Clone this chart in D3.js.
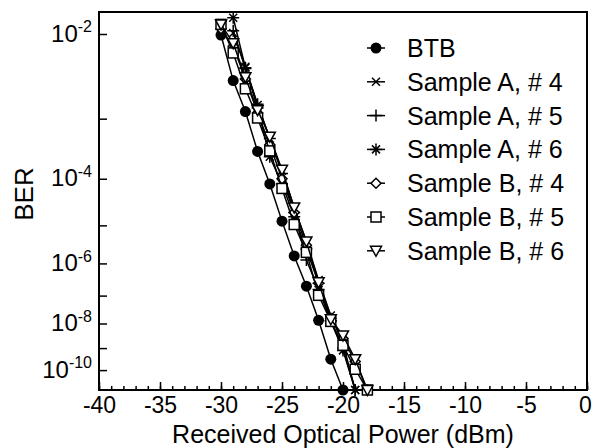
<!DOCTYPE html>
<html>
<head>
<meta charset="utf-8">
<script src="https://cdn.jsdelivr.net/npm/d3@7"></script>
<style>
  body { margin: 0; background: #fff; }
  text { font-family: "Liberation Sans", Arial, sans-serif; fill: #000; }
</style>
</head>
<body>
<div id="chart"></div>
<script>
// received optical power (dBm) and log10(BER) for each curve
var btbPower = [-30, -29, -28, -27, -26, -25, -24, -23, -22, -21, -20];
var btbLogBer = [-2.01, -2.50, -2.90, -3.51, -4.10, -4.90, -5.79, -6.69, -7.88, -9.49, -11];

var a4Power = [-29, -28, -27, -26, -25, -24, -23, -22, -21, -20, -19];
var a4LogBer = [-1.99, -2.34, -2.81, -3.30, -3.85, -4.60, -5.40, -6.50, -7.70, -8.80, -11];

var a5Power = [-29, -28, -27, -26, -25, -24, -23, -22, -21, -20, -19];
var a5LogBer = [-1.97, -2.36, -2.80, -3.30, -3.90, -4.70, -5.90, -6.80, -7.90, -9.00, -11];

var a6Power = [-29, -28, -27, -26, -25, -24, -23, -22, -21, -20, -19];
var a6LogBer = [-1.85, -2.35, -2.85, -3.60, -4.10, -4.80, -5.60, -6.60, -7.90, -9.10, -11];

var b4Power = [-30, -29, -28, -27, -26, -25, -24, -23, -22, -21, -20, -19, -18];
var b4LogBer = [-1.95, -2.12, -2.48, -2.92, -3.40, -4.00, -4.70, -5.50, -6.60, -7.80, -8.60, -9.60, -11];

var b5Power = [-30, -29, -28, -27, -26, -25, -24, -23, -22, -21, -20, -19, -18];
var b5LogBer = [-1.91, -2.19, -2.60, -2.99, -3.50, -4.19, -4.98, -5.69, -6.99, -7.92, -8.88, -9.96, -11];

var b6Power = [-30, -29, -28, -27, -26, -25, -24, -23, -22, -21, -20, -19, -18];
var b6LogBer = [-1.91, -2.09, -2.46, -2.88, -3.27, -3.83, -4.59, -5.40, -6.57, -7.84, -8.47, -9.49, -11];

var seriesNames = ["BTB", "Sample A, # 4", "Sample A, # 5", "Sample A, # 6",
                   "Sample B, # 4", "Sample B, # 5", "Sample B, # 6"];
var seriesMarkers = ["circle", "x", "plus", "star", "diamond", "square", "triangle"];

var xTicks = [-40, -35, -30, -25, -20, -15, -10, -5, 0];
var yTickExps = [-2, -4, -6, -8, -10];
var yMinorExps = [-3, -5, -7, -9];

var series = [
  [btbPower, btbLogBer], [a4Power, a4LogBer], [a5Power, a5LogBer], [a6Power, a6LogBer],
  [b4Power, b4LogBer], [b5Power, b5LogBer], [b6Power, b6LogBer]
].map(function(s, i) {
  return {
    name: seriesNames[i],
    marker: seriesMarkers[i],
    values: s[0].map(function(p, j) { return { power: p, logBer: s[1][j] }; })
  };
});

var svgWidth = 592, svgHeight = 448;
var margin = { top: 12, right: 5, bottom: 58, left: 99 };
var chartWidth = svgWidth - margin.left - margin.right;
var chartHeight = svgHeight - margin.top - margin.bottom;

var svg = d3.select("#chart").append("svg")
  .attr("width", svgWidth)
  .attr("height", svgHeight);

var chartGroup = svg.append("g")
  .attr("transform", `translate(${margin.left}, ${margin.top})`);

var xScale = d3.scaleLinear().domain([-40, 0]).range([0, chartWidth]);
// BER axis: log of -log10(BER)
var yScale = d3.scaleLog().domain([1.8, 11]).range([0, chartHeight]);
function yPos(logBer) { return yScale(-logBer); }

// minor x ticks
chartGroup.append("g")
  .attr("transform", `translate(0, ${chartHeight})`)
  .call(d3.axisBottom(xScale).tickValues(d3.range(-40, 1, 1)).tickSize(-4).tickFormat(""))
  .call(function(g) { g.select(".domain").remove(); })
  .selectAll("line").attr("stroke-width", 1.5);

// major x ticks (plain hyphen as in the original)
chartGroup.append("g")
  .attr("transform", `translate(0, ${chartHeight})`)
  .call(d3.axisBottom(xScale).tickValues(xTicks).tickSize(-8).tickPadding(7)
    .tickFormat(function(d) { return String(d); }))
  .call(function(g) {
    g.select(".domain").remove();
    g.selectAll("line").attr("stroke-width", 1.5);
    g.selectAll("text").attr("font-size", "23px").attr("font-family", null);
    // last label sits on the page edge
    g.selectAll("text").filter(function(d) { return d === 0; }).attr("dx", "-2");
  });

// y ticks, minor
chartGroup.append("g")
  .call(d3.axisLeft(yScale).tickValues(yMinorExps.map(function(e) { return -e; })).tickSize(-8).tickFormat(""))
  .call(function(g) {
    g.select(".domain").remove();
    g.selectAll("line").attr("stroke-width", 1.5);
  });

// y ticks, major with 10^x labels
chartGroup.append("g")
  .call(d3.axisLeft(yScale).tickValues(yTickExps.map(function(e) { return -e; })).tickSize(-8).tickPadding(7).tickFormat(""))
  .call(function(g) {
    g.select(".domain").remove();
    g.selectAll("line").attr("stroke-width", 1.5);
    g.selectAll("text")
      .attr("font-family", null)
      .attr("font-size", "24px")
      .attr("dy", "0.3em")
      .each(function(d) {
        var t = d3.select(this);
        t.append("tspan").text("10");
        t.append("tspan").attr("font-size", "16px").attr("dy", "-0.6em").text(String(-d));
      });
  });

// frame
chartGroup.append("rect")
  .attr("x", 0).attr("y", 0)
  .attr("width", chartWidth).attr("height", chartHeight)
  .attr("fill", "none").attr("stroke", "#000").attr("stroke-width", 2);

var line = d3.line()
  .x(function(d) { return xScale(d.power); })
  .y(function(d) { return yPos(d.logBer); });

function drawMarker(g, type) {
  if (type === "circle") {
    g.append("circle").attr("r", 5.5).attr("fill", "#000");
  } else if (type === "x") {
    g.append("path").attr("d", "M-4,-4L4,4M-4,4L4,-4").attr("stroke", "#000").attr("stroke-width", 1.5);
  } else if (type === "plus") {
    g.append("path").attr("d", "M-6,0H6M0,-6V6").attr("stroke", "#000").attr("stroke-width", 1.5);
  } else if (type === "star") {
    g.append("path").attr("d", "M-4,-4L4,4M-4,4L4,-4M0,-6V6M-6,0H6").attr("stroke", "#000").attr("stroke-width", 1.5);
  } else if (type === "diamond") {
    g.append("path").attr("d", "M0,-5L5,0L0,5L-5,0Z").attr("fill", "#fff").attr("stroke", "#000").attr("stroke-width", 1.5);
  } else if (type === "square") {
    g.append("rect").attr("x", -5).attr("y", -5).attr("width", 10).attr("height", 10)
      .attr("fill", "#fff").attr("stroke", "#000").attr("stroke-width", 1.5);
  } else if (type === "triangle") {
    g.append("path").attr("d", "M-5.5,-4.5H5.5L0,5.5Z").attr("fill", "#fff").attr("stroke", "#000").attr("stroke-width", 1.5);
  }
}

var seriesGroup = chartGroup.selectAll(".series")
  .data(series)
  .enter()
  .append("g")
  .attr("class", "series");

seriesGroup.append("path")
  .attr("d", function(d) { return line(d.values); })
  .attr("fill", "none")
  .attr("stroke", "#000")
  .attr("stroke-width", 1.5);

seriesGroup.each(function(s) {
  d3.select(this).selectAll(".pt")
    .data(s.values)
    .enter()
    .append("g")
    .attr("class", "pt")
    .attr("transform", function(d) { return `translate(${xScale(d.power)}, ${yPos(d.logBer)})`; })
    .each(function() { drawMarker(d3.select(this), s.marker); });
});

// legend
var legend = svg.append("g").attr("transform", "translate(376, 48)");
var legendItem = legend.selectAll(".legend-item")
  .data(series)
  .enter()
  .append("g")
  .attr("class", "legend-item")
  .attr("transform", function(d, i) { return `translate(0, ${i * 33.8})`; });

legendItem.append("line")
  .attr("x1", -9).attr("x2", 9)
  .attr("stroke", "#000").attr("stroke-width", 1.5);
legendItem.each(function(d) { drawMarker(d3.select(this), d.marker); });
legendItem.append("text")
  .attr("x", 31)
  .attr("dy", "0.36em")
  .attr("font-size", "25px")
  .text(function(d) { return d.name; });

// axis labels
svg.append("text")
  .attr("transform", `translate(33, ${margin.top + chartHeight / 2 - 7}) rotate(-90)`)
  .attr("text-anchor", "middle")
  .attr("font-size", "26px")
  .text("BER");

svg.append("text")
  .attr("x", margin.left + chartWidth / 2)
  .attr("y", 443)
  .attr("text-anchor", "middle")
  .attr("font-size", "25px")
  .text("Received Optical Power (dBm)");
</script>
</body>
</html>
